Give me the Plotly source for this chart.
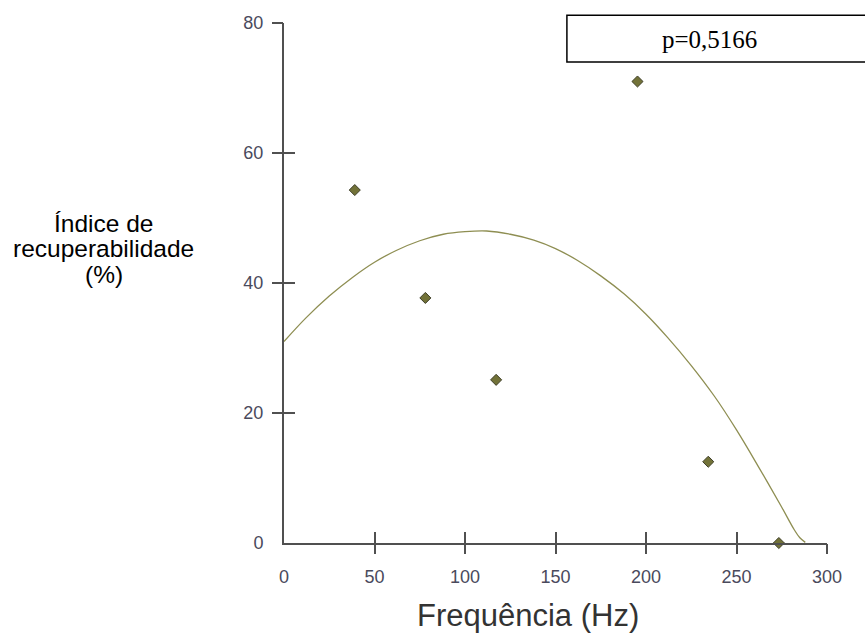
import plotly.graph_objects as go

# Observed points
freq = [39.1, 78.1, 117.2, 195.3, 234.4, 273.4]
recup = [54.3, 37.7, 25.1, 71.0, 12.5, 0.0]

# Fitted curve
curve_x = [0, 12, 25, 38, 50, 62, 75, 88, 100, 112, 125, 138, 150, 162, 175,
           188, 200, 212, 225, 238, 250, 262, 275, 282, 285, 288]
curve_y = [31.0, 34.6, 38.0, 40.9, 43.2, 45.0, 46.5, 47.5, 47.9, 48.0, 47.5,
           46.6, 45.3, 43.5, 41.1, 38.3, 35.2, 31.6, 27.3, 22.5, 17.4, 11.8,
           5.5, 2.0, 0.8, 0.1]

x_ticks = [0, 50, 100, 150, 200, 250, 300]
x_marks = [50, 100, 150, 200, 250, 300]
y_ticks = [0, 20, 40, 60, 80]
y_marks = [20, 40, 60, 80]

p_text = "p=0,5166"
x_title = "Frequência (Hz)"
y_title_lines = ["Índice de", "recuperabilidade", "(%)"]

SANS = "Liberation Sans, Arial, sans-serif"
SERIF = "Liberation Serif, Times New Roman, serif"
AXC = "#505050"
TICKC = "#4a4a5c"

fig = go.Figure()
fig.add_trace(go.Scatter(
    x=curve_x, y=curve_y, mode="lines",
    line=dict(color="#8e8e52", width=1.3, shape="spline"),
    cliponaxis=False, showlegend=False, hoverinfo="skip"))
fig.add_trace(go.Scatter(
    x=freq, y=recup, mode="markers",
    marker=dict(symbol="diamond", size=8.5, color="#727238",
                line=dict(color="#3e3e28", width=1)),
    cliponaxis=False, showlegend=False))

common_x = dict(range=[0, 300], showgrid=False, zeroline=False, fixedrange=True)
common_y = dict(range=[0, 80], showgrid=False, zeroline=False, fixedrange=True)

fig.update_layout(
    width=865, height=635,
    margin=dict(l=284, r=38, t=23, b=92),
    paper_bgcolor="white", plot_bgcolor="white",
    xaxis=dict(**common_x, tickvals=x_ticks, ticks="outside", ticklen=10,
               tickcolor="rgba(0,0,0,0)", showline=True, linecolor=AXC,
               linewidth=2, ticklabelstandoff=6,
               tickfont=dict(family=SANS, size=18, color=TICKC)),
    yaxis=dict(**common_y, tickvals=y_ticks, ticks="outside", ticklen=11,
               tickcolor="rgba(0,0,0,0)", showline=True, linecolor=AXC,
               linewidth=2, ticklabelstandoff=4,
               tickfont=dict(family=SANS, size=18, color=TICKC)),
    xaxis2=dict(**common_x, overlaying="x", anchor="y", side="bottom",
                tickvals=x_marks, ticks="outside", ticklen=10, tickwidth=2,
                tickcolor=AXC, showticklabels=False, showline=False),
    xaxis3=dict(**common_x, overlaying="x", anchor="y", side="bottom",
                tickvals=x_marks, ticks="inside", ticklen=11, tickwidth=2,
                tickcolor=AXC, showticklabels=False, showline=False),
    yaxis2=dict(**common_y, overlaying="y", anchor="x", side="left",
                tickvals=y_marks, ticks="outside", ticklen=11, tickwidth=2,
                tickcolor=AXC, showticklabels=False, showline=False),
    yaxis3=dict(**common_y, overlaying="y", anchor="x", side="left",
                tickvals=y_marks, ticks="inside", ticklen=11, tickwidth=2,
                tickcolor=AXC, showticklabels=False, showline=False),
)

# invisible traces to activate the overlay axes
for xa, ya in [("x2", "y"), ("x3", "y"), ("x", "y2"), ("x", "y3")]:
    fig.add_trace(go.Scatter(x=[None], y=[None], xaxis=xa, yaxis=ya,
                             mode="markers", showlegend=False, hoverinfo="skip"))

# p-value box
fig.add_shape(type="rect", xref="paper", yref="paper",
              x0=0.521, x1=1.2, y0=0.925, y1=1.015,
              line=dict(color="black", width=1.5), fillcolor="white", layer="below")
fig.add_annotation(text=p_text, xref="paper", yref="paper", x=0.783, y=0.968,
                   showarrow=False, xanchor="center", yanchor="middle",
                   font=dict(family=SERIF, size=25, color="black"))

# x title
fig.add_annotation(text=x_title, xref="paper", yref="paper", x=0.449, y=-0.14,
                   showarrow=False, xanchor="center", yanchor="middle",
                   font=dict(family=SANS, size=31, color="#333333"))

# y title (three lines)
for line, yy in zip(y_title_lines, [0.614, 0.567, 0.517]):
    fig.add_annotation(text=line, xref="paper", yref="paper", x=-0.3315, y=yy,
                       showarrow=False, xanchor="center", yanchor="middle",
                       font=dict(family=SANS, size=24.5, color="black"))

fig.write_html("out.html")
